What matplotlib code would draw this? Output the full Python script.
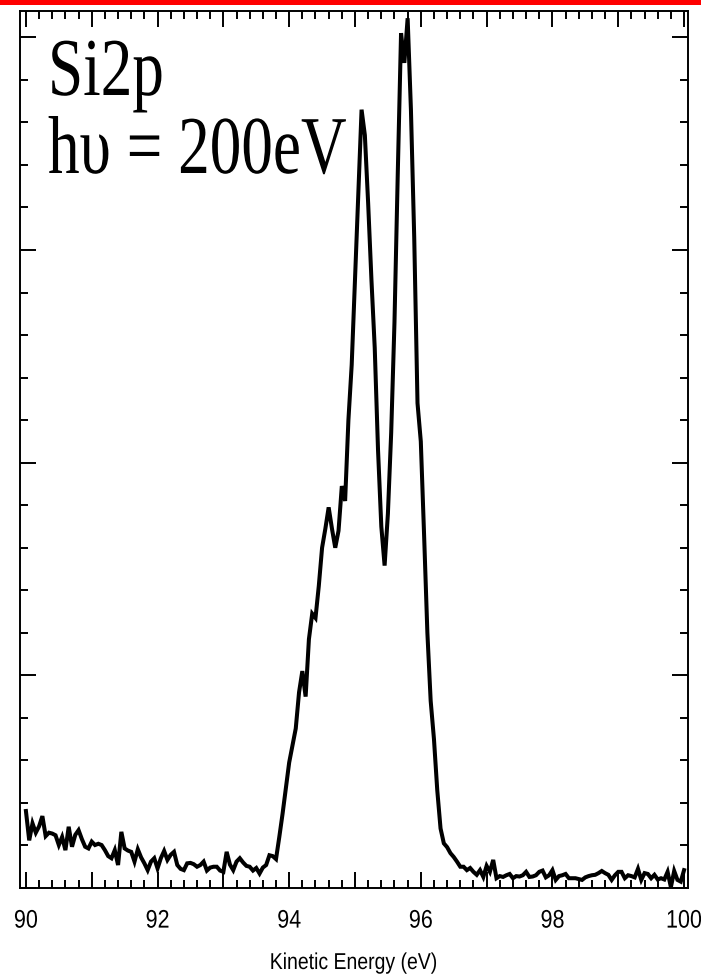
import numpy as np
import matplotlib
matplotlib.use("Agg")
import matplotlib.pyplot as plt
from matplotlib.ticker import MultipleLocator, FixedLocator
from matplotlib.patches import Rectangle
from matplotlib.patheffects import AbstractPathEffect
from matplotlib.transforms import Affine2D

# Intensity (arbitrary units), sampled every 0.05 eV from 90 eV
baseline_low = [1.81, 1.12, 1.52, 1.30, 1.45, 1.69, 1.22, 1.30, 1.28, 1.24,
                1.01, 1.20, 0.89, 1.44, 0.97, 1.25, 1.36, 1.15, 0.97, 0.93,
                1.09, 1.01, 1.04, 1.01, 0.89, 0.75, 0.70, 0.89, 0.54, 1.32,
                0.93, 0.88, 0.85, 0.62, 0.91, 0.72, 0.58, 0.42, 0.62, 0.70,
                0.46, 0.70, 0.87, 0.66, 0.78, 0.85, 0.54, 0.45, 0.42, 0.58,
                0.59, 0.56, 0.50, 0.54, 0.62, 0.41, 0.48, 0.50, 0.50, 0.41,
                0.38, 0.85, 0.55, 0.42, 0.62, 0.70, 0.60, 0.52, 0.50, 0.41,
                0.47, 0.34, 0.48, 0.54, 0.77, 0.75, 0.68]
peak_region = [1.2, 1.75, 2.35, 2.95, 3.35, 3.75, 4.6, 5.1, 4.5, 5.85,
               6.45, 6.35, 7.1, 8.0, 8.45, 8.95, 8.45, 8.0, 8.4, 9.45,
               9.1, 11.0, 12.3, 14.3, 16.3, 18.3, 17.7, 16.1, 14.3, 12.7,
               10.3, 8.5, 7.58, 8.8, 10.7, 13.3, 16.8, 20.1, 19.4, 20.45,
               18.3, 15.3, 11.4, 10.5, 8.3, 6.0, 4.4, 3.5, 2.3, 1.4]
baseline_high = [1.05, 0.96, 0.82, 0.73, 0.62, 0.50, 0.50, 0.42, 0.47, 0.38,
                 0.31, 0.42, 0.26, 0.52, 0.38, 0.66, 0.23, 0.28, 0.26, 0.30,
                 0.33, 0.23, 0.28, 0.27, 0.30, 0.38, 0.26, 0.27, 0.30, 0.38,
                 0.41, 0.25, 0.30, 0.42, 0.19, 0.28, 0.30, 0.33, 0.23, 0.23,
                 0.23, 0.21, 0.19, 0.25, 0.28, 0.30, 0.31, 0.35, 0.40, 0.35,
                 0.31, 0.19, 0.30, 0.38, 0.38, 0.23, 0.30, 0.28, 0.25, 0.45,
                 0.19, 0.35, 0.33, 0.23, 0.31, 0.20, 0.23, 0.20, 0.38, 0.02,
                 0.40, 0.19, 0.15, 0.42]
intensity = np.array(baseline_low + peak_region + baseline_high)
energy_start = 90.0
energy_step = 0.05
energy = energy_start + energy_step * np.arange(len(intensity))

xtick_values = [90, 91, 92, 93, 94, 95, 96, 97, 98, 99, 100]
xtick_labels = ["90", "", "92", "", "94", "", "96", "", "98", "", "100"]


class VStretch(AbstractPathEffect):
    """Stretch glyphs vertically about their baseline."""
    def __init__(self, sy):
        super().__init__()
        self.sy = sy

    def draw_path(self, renderer, gc, tpath, affine, rgbFace=None):
        x0, y0 = affine.transform((0, 0))
        t = affine + Affine2D().translate(-x0, -y0).scale(1, self.sy).translate(x0, y0)
        renderer.draw_path(gc, tpath, t, rgbFace)


W, H = 701, 975
fig = plt.figure(figsize=(W / 100, H / 100), dpi=100)
fig.patch.set_facecolor("white")

# red bar along top
fig.patches.append(Rectangle((0, 1 - 5 / H), 1, 5 / H, transform=fig.transFigure,
                             facecolor="#ff0000", edgecolor="none"))

L, R, T, B = 20, 688, 11, 888
ax = fig.add_axes([L / W, 1 - B / H, (R - L) / W, (B - T) / H])

ax.plot(energy, intensity, color="black", lw=2.9, solid_joinstyle="miter")

ax.set_xlim(89.91, 100.06)
ax.set_ylim(0, 20.62)

ax.xaxis.set_major_locator(FixedLocator(xtick_values))
ax.set_xticklabels(xtick_labels, family="Liberation Sans", fontsize=15.5)
ax.xaxis.set_minor_locator(MultipleLocator(0.2))
ax.yaxis.set_major_locator(MultipleLocator(5))
ax.yaxis.set_minor_locator(MultipleLocator(1))

ax.tick_params(which="both", direction="in", top=True, right=True, width=1.4, color="black")
ax.tick_params(which="major", length=11.5)
ax.tick_params(which="minor", length=6)
ax.tick_params(axis="x", which="major", pad=17)
ax.tick_params(axis="y", labelleft=False)

stretch = [VStretch(1.18)]
for t in ax.xaxis.get_major_ticks():
    t.label1.set_path_effects(stretch)

for s in ax.spines.values():
    s.set_linewidth(1.4)

serif = ["Liberation Serif", "DejaVu Serif"]
fig.text(48 / W, 1 - 95 / H, "Si2p", family=serif, fontsize=45.5, va="baseline", ha="left",
         path_effects=[VStretch(1.3)])
fig.text(48 / W, 1 - 173 / H, "h\u03c5 = 200eV", family=serif, fontsize=45.5, va="baseline",
         ha="left", path_effects=[VStretch(1.3)])

fig.text(354 / W, 1 - 969 / H, "Kinetic Energy (eV)", family="Liberation Sans",
         fontsize=14, ha="center", va="baseline", path_effects=stretch)

fig.savefig("out.png", dpi=100)
